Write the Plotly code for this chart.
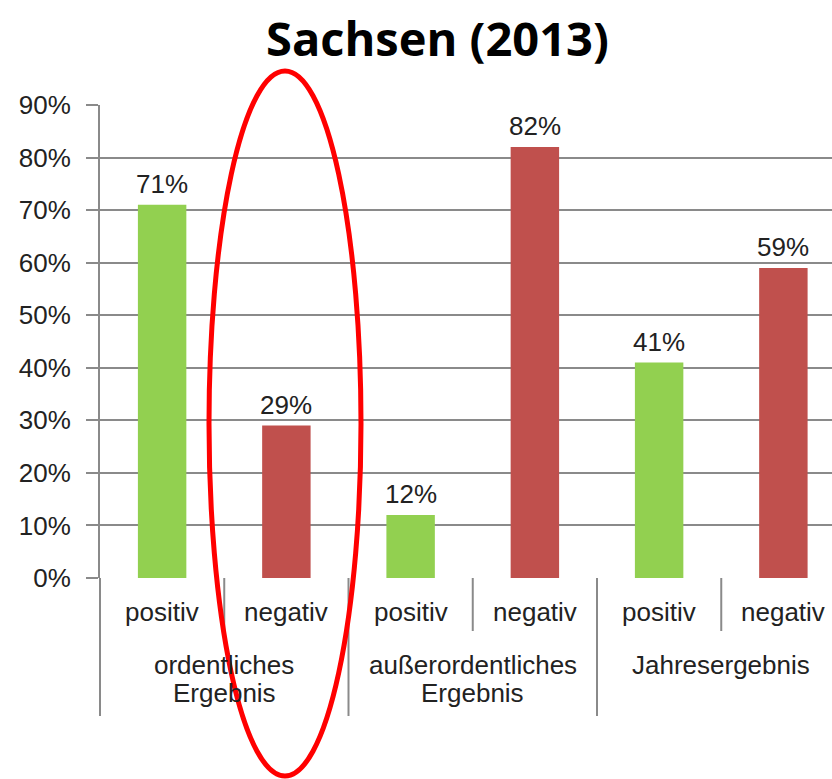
import plotly.graph_objects as go

title = "Sachsen (2013)"
groups = ["ordentliches<br>Ergebnis", "außerordentliches<br>Ergebnis", "Jahresergebnis"]
categories = ["positiv", "negativ", "positiv", "negativ", "positiv", "negativ"]
values = [71, 29, 12, 82, 41, 59]
bar_colors = ["#92D050", "#C0504D", "#92D050", "#C0504D", "#92D050", "#C0504D"]
y_ticks = [0, 10, 20, 30, 40, 50, 60, 70, 80, 90]

W, H = 832, 779
L, R, T, B = 100, 0, 105, 201
pw, ph = W - L - R, H - T - B
cat_px = 124.25
xmin = -0.5
xmax = xmin + pw / cat_px

FONT = "Liberation Sans, Arial, sans-serif"
TXT = "#222222"
GRID = "#8a8a8a"

def xp(xd):
    return (xd - xmin) / (xmax - xmin)

def pxx(px):
    return (px - L) / pw

def pxy(py):
    return (H - B - py) / ph

xs = list(range(len(categories)))
vals = [v / 100 for v in values]

fig = go.Figure()
fig.add_trace(go.Bar(
    x=xs, y=vals, width=0.39,
    marker=dict(color=bar_colors, line=dict(width=0)),
    showlegend=False, hoverinfo="skip",
))

ann = []
# data labels
for x, v in zip(xs, values):
    ann.append(dict(x=x, y=v / 100, xref="x", yref="y", text=f"{v}%", showarrow=False,
                    xanchor="center", yanchor="bottom", yshift=4,
                    font=dict(family=FONT, size=26, color=TXT)))
# category labels
for x, c in zip(xs, categories):
    ann.append(dict(x=xp(x), y=pxy(612), xref="paper", yref="paper", text=c, showarrow=False,
                    xanchor="center", yanchor="middle", font=dict(family=FONT, size=26, color=TXT)))
# group labels
for gi, g in enumerate(groups):
    cx = xp(2 * gi + 0.5)
    lines = g.split("<br>")
    for li, line in enumerate(lines):
        ann.append(dict(x=cx, y=pxy(665 + 28 * li), xref="paper", yref="paper", text=line,
                        showarrow=False, xanchor="center", yanchor="middle",
                        font=dict(family=FONT, size=26, color=TXT)))
# title
ann.append(dict(x=pxx(437), y=pxy(38), xref="paper", yref="paper", text=f"<b>{title}</b>",
                showarrow=False, xanchor="center", yanchor="middle",
                font=dict(family="Open Sans, Lato, sans-serif", size=47, color="#000000")))

shapes = []
# separators
for k in range(len(categories)):
    xd = -0.5 + k
    long = (k % 2 == 0)
    shapes.append(dict(type="line", xref="paper", yref="paper", x0=xp(xd), x1=xp(xd),
                       y0=0, y1=pxy(716 if long else 631),
                       line=dict(color=GRID, width=2)))
# ellipse highlight
shapes.append(dict(type="circle", xref="paper", yref="paper",
                   x0=pxx(209), x1=pxx(361), y0=pxy(776), y1=pxy(71),
                   line=dict(color="#FF0000", width=5), fillcolor="rgba(0,0,0,0)", layer="above"))

fig.update_layout(
    width=W, height=H,
    margin=dict(l=L, r=R, t=T, b=B, pad=0),
    paper_bgcolor="white", plot_bgcolor="white",
    annotations=ann, shapes=shapes,
    xaxis=dict(range=[xmin, xmax], showticklabels=False, showgrid=False, zeroline=False,
               showline=False, ticks=""),
    yaxis=dict(range=[0, 0.9], tickvals=[t / 100 for t in y_ticks],
               ticktext=[f"{t}%" for t in y_ticks],
               showgrid=True, gridcolor=GRID, gridwidth=2,
               showline=True, linecolor=GRID, linewidth=2,
               ticks="outside", ticklen=12, tickcolor=GRID, tickwidth=2,
               ticklabelstandoff=10, zeroline=False,
               tickfont=dict(family=FONT, size=26, color=TXT)),
)

fig.write_html("out.html", config={"displayModeBar": False},
               post_script="document.body.style.margin='0';document.body.style.overflow='hidden';")
